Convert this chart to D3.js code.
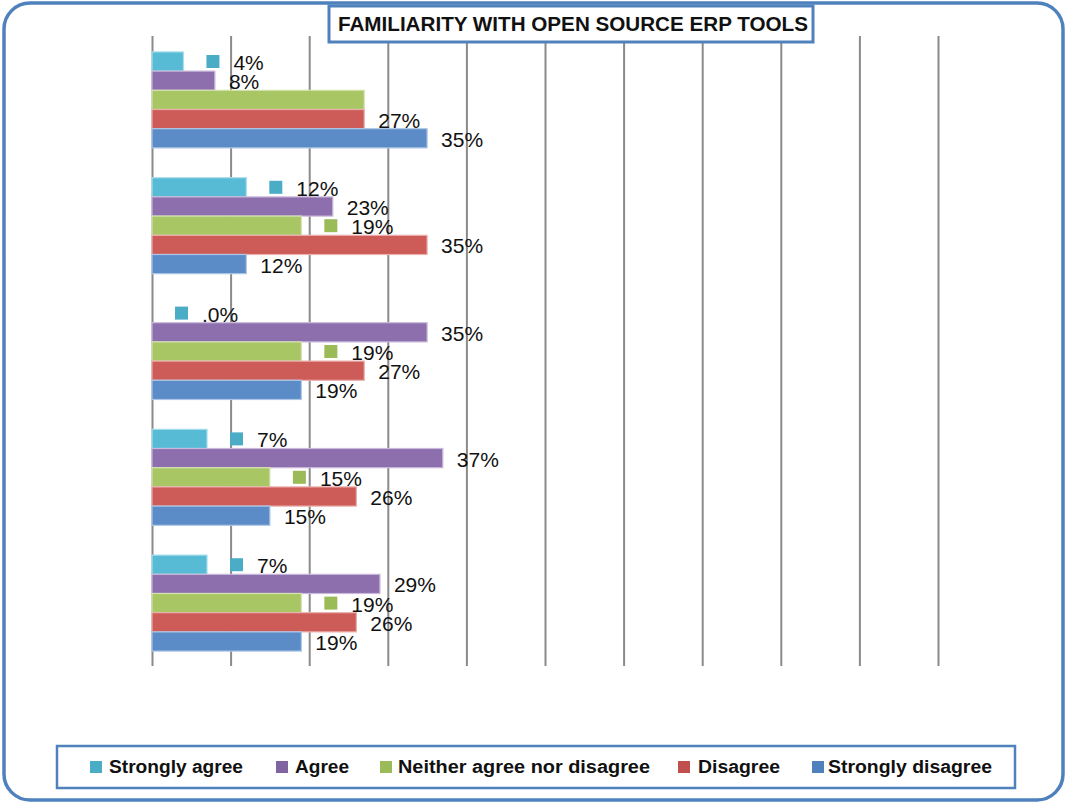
<!DOCTYPE html>
<html>
<head>
<meta charset="utf-8">
<script src="https://cdn.jsdelivr.net/npm/d3@7"></script>
<style>
  html, body { margin: 0; padding: 0; background: #fff; }
  svg { display: block; }
</style>
</head>
<body>
<svg id="chart" width="1068" height="804"></svg>
<script>
// Survey groups, top to bottom (no axis labels are shown)
const categories = ["G1", "G2", "G3", "G4", "G5"];

// Percentage of respondents per answer, one value per group
const stronglyAgree    = [4, 12, 0, 7, 7];
const agree            = [8, 23, 35, 37, 29];
const neither          = [27, 19, 19, 15, 19];
const disagree         = [27, 35, 27, 26, 26];
const stronglyDisagree = [35, 12, 19, 15, 19];

// Which data labels are printed (the "Neither" label of the first group is hidden)
const neitherLabelShown = [false, true, true, true, true];

const seriesNames = ["Strongly agree", "Agree", "Neither agree nor disagree", "Disagree", "Strongly disagree"];
const xTicks = [0, 10, 20, 30, 40, 50, 60, 70, 80, 90, 100];

const series = [
  { name: seriesNames[0], values: stronglyAgree, fill: "#57BBD5", edge: "#A9DDEB", key: "#4BACC6", labelKey: true,  shown: [true, true, true, true, true] },
  { name: seriesNames[1], values: agree,         fill: "#8C6FAC", edge: "#C9B9DB", key: "#8064A2", labelKey: false, shown: [true, true, true, true, true] },
  { name: seriesNames[2], values: neither,       fill: "#A8C663", edge: "#D3E3B1", key: "#9BBB59", labelKey: true,  shown: neitherLabelShown },
  { name: seriesNames[3], values: disagree,      fill: "#CD5B57", edge: "#EBB0AE", key: "#C0504D", labelKey: false, shown: [true, true, true, true, true] },
  { name: seriesNames[4], values: stronglyDisagree, fill: "#5B8CC8", edge: "#ADC6E5", key: "#4F81BD", labelKey: false, shown: [true, true, true, true, true] }
];

const svg = d3.select("#chart");
const blue = "#4F81BD";

// Outer chart frame
svg.append("rect")
  .attr("x", 4).attr("y", 3).attr("width", 1059).attr("height", 797)
  .attr("rx", 26).attr("ry", 26)
  .attr("fill", "#fff").attr("stroke", blue).attr("stroke-width", 3.5);

const plot = { left: 152, right: 938, top: 36, bottom: 666 };

const x = d3.scaleLinear().domain([0, 100]).range([plot.left, plot.right]);
const y = d3.scaleBand().domain(categories).range([plot.top + 1, plot.bottom])
  .paddingInner(0.237).paddingOuter(0.1185);
const yInner = d3.scaleBand().domain(seriesNames).range([0, y.bandwidth()]);

// Vertical gridlines via an axis with full-height ticks
const grid = svg.append("g")
  .attr("transform", `translate(0,${plot.top})`)
  .call(d3.axisBottom(x).tickValues(xTicks).tickSize(plot.bottom - plot.top).tickFormat(""));
grid.select(".domain").remove();
grid.selectAll(".tick line").attr("stroke", "#8a8a8a").attr("stroke-width", 2);

// Bars
const groups = svg.append("g").selectAll("g")
  .data(series).join("g");

groups.each(function (s) {
  const g = d3.select(this);
  g.selectAll("rect")
    .data(s.values.map((v, i) => ({ v, cat: categories[i] })))
    .join("rect")
    .attr("x", x(0))
    .attr("y", d => y(d.cat) + yInner(s.name))
    .attr("width", d => x(d.v) - x(0))
    .attr("height", yInner.bandwidth())
    .attr("fill", s.fill)
    .attr("stroke", d => d.v > 0 ? s.edge : "none")
    .attr("stroke-width", 1.2);
});

// Data labels (with a legend key for some series)
const fmt = v => v === 0 ? ".0%" : v + "%";
const labelLayer = svg.append("g")
  .attr("font-family", "'Liberation Sans', Arial, sans-serif")
  .attr("font-size", 21)
  .attr("fill", "#111");

series.forEach(s => {
  s.values.forEach((v, i) => {
    if (!s.shown[i]) return;
    const cy = y(categories[i]) + yInner(s.name) + yInner.bandwidth() / 2;
    const end = x(v);
    if (s.labelKey) {
      labelLayer.append("rect")
        .attr("x", end + 23).attr("y", cy - 6.5)
        .attr("width", 13).attr("height", 13)
        .attr("fill", s.key);
      labelLayer.append("text")
        .attr("x", end + 50).attr("y", cy + 8.5)
        .text(fmt(v));
    } else {
      labelLayer.append("text")
        .attr("x", end + 14).attr("y", cy + 8.5)
        .text(fmt(v));
    }
  });
});

// Title box
svg.append("rect")
  .attr("x", 329).attr("y", 6).attr("width", 484).attr("height", 36)
  .attr("fill", "#fff").attr("stroke", blue).attr("stroke-width", 3);
svg.append("text")
  .attr("x", 338).attr("y", 30.5)
  .attr("font-family", "'Liberation Sans', Arial, sans-serif")
  .attr("font-weight", "bold").attr("font-size", 20)
  .attr("textLength", 470).attr("lengthAdjust", "spacingAndGlyphs")
  .attr("fill", "#111")
  .text("FAMILIARITY WITH OPEN SOURCE ERP TOOLS");

// Legend
svg.append("rect")
  .attr("x", 57).attr("y", 746).attr("width", 958).attr("height", 42)
  .attr("fill", "#fff").attr("stroke", blue).attr("stroke-width", 2.5);

const legendPos = [
  { key: 90,  text: 109, len: 134 },
  { key: 276, text: 295, len: 54 },
  { key: 380, text: 398, len: 252 },
  { key: 678, text: 698, len: 82 },
  { key: 812, text: 828, len: 164 }
];
const legend = svg.append("g").selectAll("g")
  .data(series).join("g");
legend.append("rect")
  .attr("x", (d, i) => legendPos[i].key).attr("y", 761)
  .attr("width", 12).attr("height", 12)
  .attr("fill", d => d.key);
legend.append("text")
  .attr("x", (d, i) => legendPos[i].text).attr("y", 773)
  .attr("font-family", "'Liberation Sans', Arial, sans-serif")
  .attr("font-weight", "bold").attr("font-size", 18)
  .attr("textLength", (d, i) => legendPos[i].len).attr("lengthAdjust", "spacingAndGlyphs")
  .attr("fill", "#111")
  .text(d => d.name);
</script>
</body>
</html>
